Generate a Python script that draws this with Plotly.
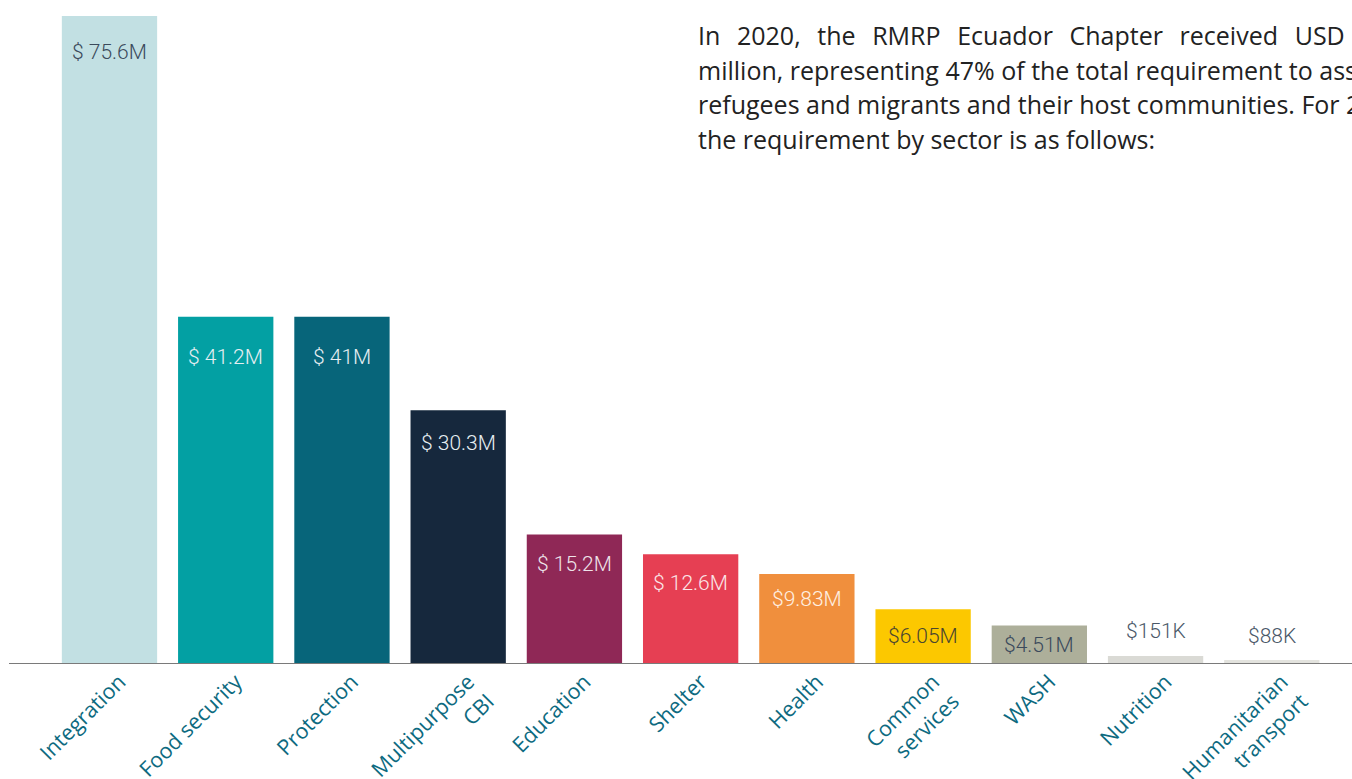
import plotly.graph_objects as go

categories = ["Integration", "Food security", "Protection", "Multipurpose<br>CBI", "Education",
              "Shelter", "Health", "Common<br>services", "WASH", "Nutrition", "Humanitarian<br>transport"]
# bar heights as drawn (USD millions)
bar_heights = [75.6, 40.5, 40.5, 29.6, 15.1, 12.8, 10.5, 6.4, 4.5, 0.93, 0.47]
value_labels = ["$ 75.6M", "$ 41.2M", "$ 41M", "$ 30.3M", "$ 15.2M", "$ 12.6M",
                "$9.83M", "$6.05M", "$4.51M", "$151K", "$88K"]
bar_colors = ["#C2E0E3", "#03A0A3", "#07657A", "#16283D", "#8F2856", "#E63F53",
              "#F08F3D", "#FCC800", "#ADAF9A", "#DADAD5", "#E3E3DE"]
label_colors = ["#3B4A5C", "#E6EEF2", "#E6EEF2", "#E6EEF2", "#EEE4EA", "#FBE6E8",
                "#FFF0E2", "#4A4630", "#3B4A5C", "#4A5868", "#4A5868"]
label_shift = [-36, -40, -40, -33, -29, -29, -25, -27, -20, 25, 24]

# paragraph (justified; first line with widened word gaps)
GAP = "\u2002\u2009"
line1_words = ["In", "2020,", "the", "RMRP", "Ecuador", "Chapter", "received", "USD"]
line2_text = "million, representing 47% of the total requirement to assist"
line3_text = "refugees and migrants and their host communities. For 2021,"
line4_text = "the requirement by sector is as follows:"
para_lines = [GAP.join(line1_words), line2_text, line3_text, line4_text]

PARA_FONT = dict(family="Open Sans", size=25, color="#222222")

fig = go.Figure()
fig.add_trace(go.Bar(
    x=categories, y=bar_heights,
    marker=dict(color=bar_colors, line=dict(width=0)),
    hoverinfo="skip",
))

for c, h, t, col, s in zip(categories, bar_heights, value_labels, label_colors, label_shift):
    fig.add_annotation(x=c, y=h, text=t, showarrow=False, yanchor="middle", yshift=s,
                       font=dict(family="Roboto", size=21, color=col, weight=300))

para_y = [35, 70, 104, 139]
for line, py in zip(para_lines, para_y):
    fig.add_annotation(xref="paper", yref="paper", x=696 / 1352, y=(664 - py) / 648,
                       text=line, showarrow=False, xanchor="left", yanchor="middle",
                       font=PARA_FONT)

fig.add_shape(type="line", xref="paper", yref="y", x0=9 / 1352, x1=1, y0=0, y1=0,
              line=dict(color="#7A7A7A", width=2))

fig.update_layout(
    width=1352, height=779,
    margin=dict(l=0, r=0, t=16, b=115),
    plot_bgcolor="white", paper_bgcolor="white",
    bargap=0.18,
    showlegend=False,
    xaxis=dict(range=[-0.942, 10.69], tickangle=-45, showgrid=False, zeroline=False,
               showline=False, ticks="", automargin=False,
               ticklabelshift=10,
               tickfont=dict(family="Open Sans", size=21.5, color="#0D6A80")),
    yaxis=dict(range=[0, 75.6], visible=False, showgrid=False, zeroline=False, automargin=False),
)

fig.write_html("out.html", config={"displayModeBar": False},
               post_script="document.body.style.margin='0';")
